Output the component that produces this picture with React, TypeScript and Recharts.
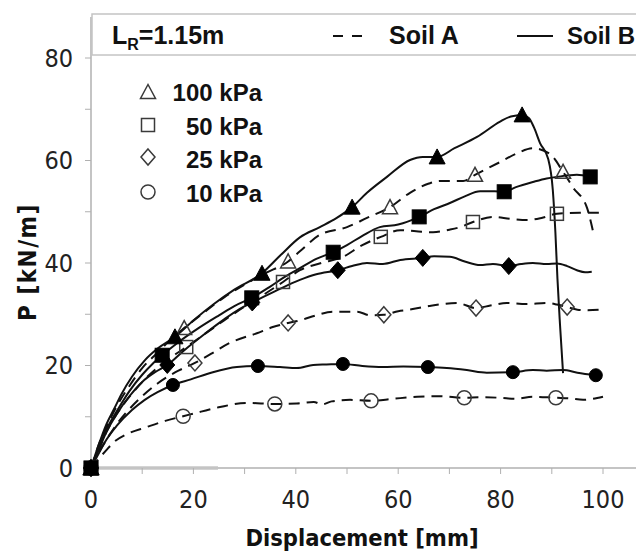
import React from 'react';
import { ComposedChart, Line, Scatter, XAxis, YAxis } from 'recharts';

type XY = [number, number];

// Axis ticks (minor every 10, labels every 20)
const X_TICKS = [0, 10, 20, 30, 40, 50, 60, 70, 80, 90, 100, 110];
const Y_TICKS = [0, 10, 20, 30, 40, 50, 60, 70, 80];

// Soil B (solid) curves, displacement [mm] vs P [kN/m]
const B100_LINE: XY[] = [[0, 0], [1.5, 4.5], [3, 8.5], [4.5, 11.5], [6, 14.5], [8, 17.8], [10.5, 21], [13, 23.3], [16.4, 25.6], [20, 28.8], [24, 32], [28, 34.8], [33.4, 38], [37, 41.5], [40.8, 45], [44.7, 47], [48, 48.8], [51, 50.9], [53.9, 53.7], [57.8, 56.8], [62.3, 60.1], [64.8, 60.7], [67.6, 60.7], [71, 62.4], [75.4, 64.6], [79.9, 67.6], [82, 68.6], [84.2, 68.9], [85.5, 68.3], [86.5, 66.5], [87.7, 63.4], [89.3, 60.3], [90.2, 54.2], [90.7, 46], [91.1, 37], [91.6, 28], [92.2, 18.5]];
const B50_LINE: XY[] = [[0, 0], [1.5, 4], [3, 7.5], [5, 11], [7.5, 15], [10, 18.2], [12, 20.3], [13.9, 22], [17, 24.5], [21, 27.3], [25, 29.8], [28, 31.6], [31.4, 33.2], [35, 35.4], [38, 37.4], [40.8, 39], [44, 40.8], [47.3, 42.1], [50, 43.5], [53, 45.3], [56.4, 47], [60, 47.5], [64.1, 49], [67, 50.5], [70.1, 51.7], [73, 53], [76, 54], [78.8, 54], [80.7, 53.9], [83, 54.8], [86.3, 55.8], [89, 56.5], [91, 56.8], [94.9, 57.2], [97.5, 56.8]];
const B25_LINE: XY[] = [[0, 0], [1.5, 3.5], [3, 7], [5, 10.5], [7.5, 14], [10, 16.8], [12.5, 18.7], [14.9, 20.1], [18, 22.8], [22, 26], [26, 29], [29, 31], [31.5, 32.3], [36, 34.5], [40.8, 36.7], [44, 37.8], [48.2, 38.6], [51, 39.4], [53.9, 40], [57, 39.8], [60.4, 40.6], [64.8, 41], [67, 41.3], [70.1, 41.2], [73, 40.3], [76, 39.6], [78.5, 39.8], [81.6, 39.4], [84, 39.8], [86.3, 40], [89, 39.8], [91, 39.9], [93, 39.4], [94.9, 38.6], [96.5, 38.2], [97.8, 38.3]];
const B10_LINE: XY[] = [[0, 0], [1.5, 2.8], [3, 5.5], [5, 8.2], [8, 11.3], [10.5, 13.3], [13, 14.8], [16, 16.2], [19.5, 17.3], [23.8, 18.7], [28.5, 19.7], [32.6, 19.9], [36.9, 19.7], [40.2, 19.5], [43.4, 20.1], [46, 20.2], [49.2, 20.3], [53, 19.9], [57, 19.7], [61, 19.8], [65.8, 19.7], [69.5, 19.5], [73.4, 19.1], [77.3, 18.6], [82.4, 18.7], [86.3, 19.1], [89, 19], [92.2, 19.1], [95, 18.6], [98.6, 18.1]];

// Soil A (dashed) curves
const A100_LINE: XY[] = [[0, 0], [1.5, 4.5], [3, 8], [5, 12], [7.5, 16], [10, 19.5], [13, 22.5], [15.5, 25], [18.2, 27.3], [22, 30.3], [26, 33.3], [30, 35.8], [34, 38], [38.5, 40.3], [40.8, 42.3], [44.7, 45.5], [50, 47], [53.9, 48.8], [58.4, 50.9], [62.3, 53.7], [66, 55.5], [68.2, 56], [72.7, 56], [75, 57.2], [79.9, 59.7], [83, 61.3], [86.3, 62.4], [89.6, 61.3], [92.2, 57.8], [94.1, 54.8], [96.9, 50.7], [98, 46.4]];
const A50_LINE: XY[] = [[0, 0], [1.5, 3.5], [3, 7], [5, 10.5], [8, 14.5], [11, 17.8], [14.5, 20.8], [18.6, 23.6], [22, 26], [26, 28.8], [30, 31.5], [34, 34], [37.5, 36.3], [40.8, 38.6], [45, 40], [49.2, 41.2], [53, 43.5], [56.6, 45.1], [60.4, 46.4], [63.5, 46.2], [66.8, 46], [70, 46.5], [72.1, 47], [74.6, 48], [78.5, 49], [82, 48.6], [85.2, 48.4], [88, 48.8], [91, 49.6], [95.5, 49.8], [100.4, 49.8]];
const A25_LINE: XY[] = [[0, 0], [1.5, 3], [3, 5.5], [5, 8.5], [7.5, 11.5], [10, 14], [13, 16.5], [16.5, 18.7], [20.3, 20.5], [23.5, 22.3], [27.1, 24.4], [32.4, 26.3], [35.5, 27.5], [38.5, 28.3], [40.8, 28.8], [44, 29.8], [47.3, 30.5], [52, 30.5], [54.5, 29.8], [57.2, 29.9], [60, 30.6], [62.3, 30.9], [66, 31.6], [71.5, 32.2], [75.2, 31.2], [78, 31.7], [81.2, 32.2], [85, 32], [89, 32.2], [91, 31.9], [93, 31.4], [95, 30.9], [96.9, 30.8], [100.4, 31]];
const A10_LINE: XY[] = [[0, 0], [1.5, 1.8], [3, 3.5], [4.3, 4.9], [7, 6.6], [10.9, 8], [14.5, 9.2], [18, 10.1], [21.5, 11], [25.2, 11.9], [30.5, 12.7], [35.9, 12.5], [40.2, 12.6], [43.5, 12.9], [45.1, 12.4], [47, 13], [50.6, 13.3], [54.7, 13.1], [59, 13.5], [63.7, 13.9], [68.2, 14], [72.9, 13.7], [76, 13.8], [79.9, 13.7], [83, 13.5], [86.3, 13.9], [90.8, 13.7], [93.5, 13.6], [96.1, 13.3], [98, 13.5], [100, 13.9]];

// marker positions
const B100_MARKS: XY[] = [[0, 0], [16.4, 25.6], [33.4, 38], [51, 50.9], [67.6, 60.7], [84.2, 68.9]];
const B50_MARKS: XY[] = [[0, 0], [13.9, 22], [31.4, 33.2], [47.3, 42.1], [64.1, 49], [80.7, 53.9], [97.5, 56.8]];
const B25_MARKS: XY[] = [[0, 0], [14.9, 20.1], [31.5, 32.3], [48.2, 38.6], [64.8, 41], [81.6, 39.4]];
const B10_MARKS: XY[] = [[0, 0], [16, 16.2], [32.6, 19.9], [49.2, 20.3], [65.8, 19.7], [82.4, 18.7], [98.6, 18.1]];
const A100_MARKS: XY[] = [[0, 0], [18.2, 27.3], [38.5, 40.3], [58.4, 50.9], [75, 57.2], [92.2, 57.8]];
const A50_MARKS: XY[] = [[0, 0], [18.6, 23.6], [37.5, 36.3], [56.6, 45.1], [74.6, 48], [91, 49.6]];
const A25_MARKS: XY[] = [[0, 0], [20.3, 20.5], [38.5, 28.3], [57.2, 29.9], [75.2, 31.2], [93, 31.4]];
const A10_MARKS: XY[] = [[0, 0], [18, 10.1], [35.9, 12.5], [54.7, 13.1], [72.9, 13.7], [90.8, 13.7]];

const ZERO_LINE: XY[] = [[0, 0], [24.8, 0]];

const PRESSURES = ['100 kPa', '50 kPa', '25 kPa', '10 kPa'];

type Kind = 'tri' | 'sq' | 'dia' | 'circ';

const toPts = (arr: XY[]) => arr.map(([x, y]) => ({ x, y }));

const Marker = ({ cx, cy, kind, filled }: { cx: number; cy: number; kind: Kind; filled: boolean }) => {
  const fill = filled ? '#000' : 'none';
  const stroke = filled ? '#000' : '#3a3a3a';
  const sw = filled ? 1 : 1.5;
  if (kind === 'tri') {
    const w = filled ? 8 : 7.5;
    const h = filled ? 7 : 6.5;
    return <polygon points={`${cx},${cy - h - 1} ${cx - w},${cy + h} ${cx + w},${cy + h}`} fill={fill} stroke={stroke} strokeWidth={sw} />;
  }
  if (kind === 'sq') {
    const s = filled ? 7 : 6.5;
    return <rect x={cx - s} y={cy - s} width={s * 2} height={s * 2} fill={fill} stroke={stroke} strokeWidth={sw} />;
  }
  if (kind === 'dia') {
    const w = filled ? 7.5 : 7;
    const h = filled ? 8.5 : 8;
    return <polygon points={`${cx},${cy - h} ${cx + w},${cy} ${cx},${cy + h} ${cx - w},${cy}`} fill={fill} stroke={stroke} strokeWidth={sw} />;
  }
  return <circle cx={cx} cy={cy} r={filled ? 6.5 : 7} fill={fill} stroke={stroke} strokeWidth={sw} />;
};

const shapeOf = (kind: Kind, filled: boolean) => (p: any) => <Marker cx={p.cx} cy={p.cy} kind={kind} filled={filled} />;

const TICK_FONT = "'Liberation Sans Narrow', 'Arial Narrow', 'DejaVu Sans Condensed', sans-serif";
const TITLE_FONT = "'DejaVu Sans Condensed', 'DejaVu Sans', sans-serif";
const LEGEND_FONT = "'Liberation Sans', Arial, sans-serif";

const fmt = (v: number) => (v % 20 === 0 ? String(v) : '');

const dashedSeries = [
  { key: 'a100', line: A100_LINE, marks: A100_MARKS, kind: 'tri' as Kind },
  { key: 'a50', line: A50_LINE, marks: A50_MARKS, kind: 'sq' as Kind },
  { key: 'a25', line: A25_LINE, marks: A25_MARKS, kind: 'dia' as Kind },
  { key: 'a10', line: A10_LINE, marks: A10_MARKS, kind: 'circ' as Kind },
];
const solidSeries = [
  { key: 'b100', line: B100_LINE, marks: B100_MARKS, kind: 'tri' as Kind },
  { key: 'b50', line: B50_LINE, marks: B50_MARKS, kind: 'sq' as Kind },
  { key: 'b25', line: B25_LINE, marks: B25_MARKS, kind: 'dia' as Kind },
  { key: 'b10', line: B10_LINE, marks: B10_MARKS, kind: 'circ' as Kind },
];

const legendKinds: Kind[] = ['tri', 'sq', 'dia', 'circ'];

export default function App() {
  return (
    <div style={{ position: 'relative', width: 636, height: 543, overflow: 'hidden', background: '#fff' }}>
      <ComposedChart width={720} height={543} margin={{ top: 9, right: 22.6, bottom: 0, left: 0 }}>
        <XAxis
          type="number"
          dataKey="x"
          domain={[0, 120]}
          ticks={X_TICKS}
          tickFormatter={fmt}
          interval={0}
          height={83}
          tickSize={6}
          tickMargin={16}
          axisLine={{ stroke: '#c4c4c4', strokeWidth: 2 }}
          tickLine={{ stroke: '#b0b0b0' }}
          tick={{ fill: '#222', fontSize: 25, fontFamily: TICK_FONT }}
        />
        <YAxis
          type="number"
          dataKey="y"
          domain={[0, 88]}
          ticks={Y_TICKS}
          tickFormatter={fmt}
          interval={0}
          width={83}
          tickSize={6}
          tickMargin={12}
          axisLine={{ stroke: '#c4c4c4', strokeWidth: 2 }}
          tickLine={{ stroke: '#b0b0b0' }}
          tick={{ fill: '#222', fontSize: 25, fontFamily: TICK_FONT }}
        />
        <Line data={toPts(ZERO_LINE)} dataKey="y" stroke="#555" strokeWidth={2.5} dot={false} activeDot={false} isAnimationActive={false} />
        {dashedSeries.map((s) => (
          <Line key={s.key} data={toPts(s.line)} dataKey="y" type="monotone" stroke="#111" strokeWidth={2} strokeDasharray="11 7" dot={false} activeDot={false} isAnimationActive={false} />
        ))}
        {solidSeries.map((s) => (
          <Line key={s.key} data={toPts(s.line)} dataKey="y" type="monotone" stroke="#111" strokeWidth={2} dot={false} activeDot={false} isAnimationActive={false} />
        ))}
        {dashedSeries.map((s) => (
          <Scatter key={s.key + 'm'} data={toPts(s.marks)} dataKey="y" shape={shapeOf(s.kind, false)} isAnimationActive={false} />
        ))}
        {solidSeries.map((s) => (
          <Scatter key={s.key + 'm'} data={toPts(s.marks)} dataKey="y" shape={shapeOf(s.kind, true)} isAnimationActive={false} />
        ))}
      </ComposedChart>

      {/* legend + axis titles */}
      <svg width={636} height={543} style={{ position: 'absolute', left: 0, top: 0, pointerEvents: 'none' }}>
        <rect x={84} y={6} width={600} height={41} fill="#fff" stroke="#c4c4c4" strokeWidth={1.5} />
        <text x={104} y={36} fontFamily={LEGEND_FONT} fontWeight="bold" fontSize={25} fill="#111">
          L<tspan dy={6} fontSize={16}>R</tspan><tspan dy={-6}>=1.15m</tspan>
        </text>
        <line x1={325} x2={335} y1={28} y2={28} stroke="#111" strokeWidth={2} />
        <line x1={344} x2={354} y1={28} y2={28} stroke="#111" strokeWidth={2} />
        <text x={381} y={36} fontFamily={LEGEND_FONT} fontWeight="bold" fontSize={25} fill="#111">Soil A</text>
        <line x1={509} x2={545} y1={28} y2={28} stroke="#111" strokeWidth={2} />
        <text x={559} y={36} fontFamily={LEGEND_FONT} fontWeight="bold" fontSize={24} fill="#111">Soil B</text>

        {PRESSURES.map((p, i) => (
          <g key={p}>
            <Marker cx={140} cy={[84, 117, 149, 184][i]} kind={legendKinds[i]} filled={false} />
            <text x={254} y={[93, 127, 160, 194][i]} textAnchor="end" fontFamily={LEGEND_FONT} fontWeight="bold" fontSize={24} fill="#111">{p}</text>
          </g>
        ))}

        <text x={354} y={538} textAnchor="middle" fontFamily={TITLE_FONT} fontWeight="bold" fontSize={23.5} fill="#111">Displacement [mm]</text>
        <text x={28} y={254} transform="rotate(-90 28 254)" textAnchor="middle" fontFamily={TITLE_FONT} fontWeight="bold" fontSize={24} letterSpacing={1.5} fill="#111">P [kN/m]</text>
      </svg>
    </div>
  );
}
